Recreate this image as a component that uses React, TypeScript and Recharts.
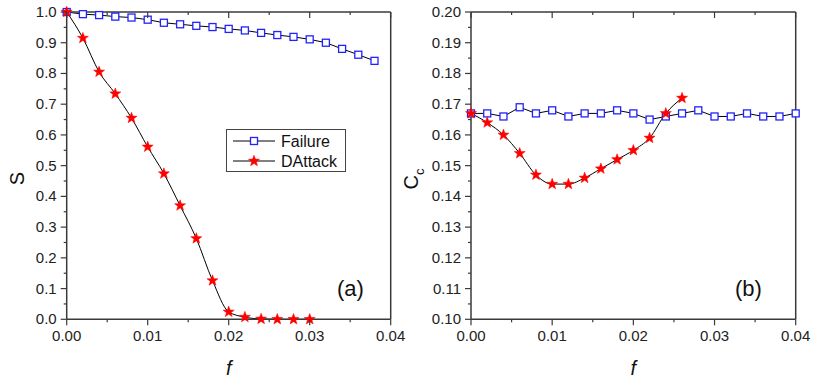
import React from "react";
import { LineChart, Line, XAxis, YAxis, Legend } from "recharts";

// panel (a): giant component S vs removed fraction f
const fA = [0, 0.002, 0.004, 0.006, 0.008, 0.01, 0.012, 0.014, 0.016, 0.018, 0.02, 0.022, 0.024, 0.026, 0.028, 0.03, 0.032, 0.034, 0.036, 0.038];
const sFailure = [1.0, 0.993, 0.99, 0.985, 0.982, 0.975, 0.965, 0.96, 0.955, 0.951, 0.945, 0.94, 0.932, 0.925, 0.919, 0.911, 0.9, 0.88, 0.861, 0.841];
const sDAttack = [1.0, 0.915, 0.805, 0.734, 0.655, 0.561, 0.474, 0.37, 0.263, 0.126, 0.024, 0.007, 0.001, 0, 0, 0];

// panel (b): clustering Cc vs f
const fB = [0, 0.002, 0.004, 0.006, 0.008, 0.01, 0.012, 0.014, 0.016, 0.018, 0.02, 0.022, 0.024, 0.026, 0.028, 0.03, 0.032, 0.034, 0.036, 0.038, 0.04];
const ccFailure = [0.167, 0.167, 0.166, 0.169, 0.167, 0.168, 0.166, 0.167, 0.167, 0.168, 0.167, 0.165, 0.166, 0.167, 0.168, 0.166, 0.166, 0.167, 0.166, 0.166, 0.167];
const ccDAttack = [0.167, 0.164, 0.16, 0.154, 0.147, 0.144, 0.144, 0.146, 0.149, 0.152, 0.155, 0.159, 0.167, 0.172];

const fTicks = [0, 0.01, 0.02, 0.03, 0.04];
const sTicks = [0, 0.1, 0.2, 0.3, 0.4, 0.5, 0.6, 0.7, 0.8, 0.9, 1.0];
const ccTicks = [0.1, 0.11, 0.12, 0.13, 0.14, 0.15, 0.16, 0.17, 0.18, 0.19, 0.2];

const seriesNames = { failure: "Failure", dattack: "DAttack" };

const dataA = fA.map((f, i) => ({ f, failure: sFailure[i], dattack: sDAttack[i] }));
const dataB = fB.map((f, i) => ({ f, failure: ccFailure[i], dattack: ccDAttack[i] }));

const FONT = "'Liberation Sans', Arial, sans-serif";
const AXIS = "#3a3a3a";
const BLUE = "#2222ff";
const RED = "#ff0000";

// majors plus one minor tick between each pair
const withMinors = (majors: number[]) => {
  const out = [...majors];
  for (let i = 0; i < majors.length - 1; i++) out.push((majors[i] + majors[i + 1]) / 2);
  return out.sort((a, b) => a - b);
};

const makeTick = (side: string, majors: number[], digits: number) => (props: any) => {
  const { x, y, payload } = props;
  const v = payload.value;
  const major = majors.some((m) => Math.abs(m - v) < 1e-9);
  const len = major ? 6 : 3;
  let line;
  let label = null;
  if (side === "bottom") {
    line = <line x1={x} x2={x} y1={y} y2={y + len} stroke={AXIS} strokeWidth={1.2} />;
    if (major)
      label = (
        <text x={x} y={y + 22} textAnchor="middle" fontSize={15} fontFamily={FONT} fill="#222">
          {v.toFixed(digits)}
        </text>
      );
  } else if (side === "left") {
    line = <line x1={x} x2={x - len} y1={y} y2={y} stroke={AXIS} strokeWidth={1.2} />;
    if (major)
      label = (
        <text x={x - 10} y={y + 5} textAnchor="end" fontSize={15} fontFamily={FONT} fill="#222">
          {v.toFixed(digits)}
        </text>
      );
  } else if (side === "top") {
    line = <line x1={x} x2={x} y1={y} y2={y + len} stroke={AXIS} strokeWidth={1.2} />;
  } else {
    line = <line x1={x} x2={x - len} y1={y} y2={y} stroke={AXIS} strokeWidth={1.2} />;
  }
  return (
    <g>
      {line}
      {label}
    </g>
  );
};

const starPath = (cx: number, cy: number, ro: number, ri: number) => {
  let d = "";
  for (let k = 0; k < 10; k++) {
    const r = k % 2 === 0 ? ro : ri;
    const a = -Math.PI / 2 + (k * Math.PI) / 5;
    d += (k === 0 ? "M" : "L") + (cx + r * Math.cos(a)).toFixed(2) + "," + (cy + r * Math.sin(a)).toFixed(2);
  }
  return d + "Z";
};

const SquareDot = (p: any) => {
  if (p.cx == null || p.cy == null || p.value == null) return <g key={p.index} />;
  return (
    <rect key={p.index} x={p.cx - 3.5} y={p.cy - 3.5} width={7} height={7} fill="#fff" stroke={BLUE} strokeWidth={1.3} />
  );
};

const StarDot = (p: any) => {
  if (p.cx == null || p.cy == null || p.value == null) return <g key={p.index} />;
  return <path key={p.index} d={starPath(p.cx, p.cy, 5.8, 2.4)} fill={RED} stroke={RED} strokeWidth={0.5} />;
};

const renderLegend = (props: any) => {
  const order = ["failure", "dattack"];
  const items = [...(props.payload || [])]
    .filter((a: any) => order.includes(a.dataKey))
    .sort((a: any, b: any) => order.indexOf(a.dataKey) - order.indexOf(b.dataKey));
  return (
    <svg width={120} height={43} style={{ display: "block" }}>
      <rect x={0.5} y={0.5} width={119} height={42} fill="#fff" stroke="#444" />
      {items.map((it: any, i: number) => {
        const cy = 12 + i * 20;
        return (
          <g key={it.dataKey}>
            <line x1={7} x2={49} y1={cy} y2={cy} stroke="#000" strokeWidth={1} />
            {it.dataKey === "failure" ? (
              <rect x={24.5} y={cy - 3.5} width={7} height={7} fill="#fff" stroke={BLUE} strokeWidth={1.3} />
            ) : (
              <path d={starPath(28, cy, 5.8, 2.4)} fill={RED} stroke={RED} strokeWidth={0.5} />
            )}
            <text x={55} y={cy + 5.5} fontSize={16} fontFamily={FONT} fill="#111">
              {it.value}
            </text>
          </g>
        );
      })}
    </svg>
  );
};

const fLabel = (props: any) => {
  const vb = props.viewBox;
  return (
    <text x={vb.x + vb.width / 2} y={vb.y + 56} textAnchor="middle" fontSize={20} fontStyle="italic" fontFamily={FONT} fill="#111">
      f
    </text>
  );
};

const sLabel = () => (
  <text x={23.5} y={178.5} transform="rotate(-90 23.5 178.5)" textAnchor="middle" fontSize={20} fontFamily={FONT} fill="#111">
    S
  </text>
);

const ccLabel = () => (
  <text x={18} y={179} transform="rotate(-90 18 179)" textAnchor="middle" fontSize={20} fontFamily={FONT} fill="#111">
    C
    <tspan fontSize={13} dy={6}>
      c
    </tspan>
  </text>
);

const panelText = (left: number): React.CSSProperties => ({
  position: "absolute",
  left,
  top: 278,
  fontSize: 22,
  lineHeight: "22px",
  fontFamily: FONT,
  color: "#111",
});

type PanelProps = {
  data: any[];
  width: number;
  right: number;
  yDomain: [number, number];
  yTicks: number[];
  yDigits: number;
  yWidth: number;
  yLabel: any;
  legend?: boolean;
};

function Panel({ data, width, right, yDomain, yTicks, yDigits, yWidth, yLabel, legend }: PanelProps) {
  return (
    <LineChart width={width} height={378} data={data} margin={{ top: 11, right, bottom: 0, left: 0 }}>
      <XAxis
        dataKey="f"
        type="number"
        domain={[0, 0.04]}
        ticks={withMinors(fTicks)}
        interval={0}
        tickLine={false}
        tickSize={0}
        tickMargin={0}
        height={58.7}
        axisLine={{ stroke: AXIS, strokeWidth: 1.5 }}
        tick={makeTick("bottom", fTicks, 2)}
        label={fLabel}
      />
      <XAxis
        xAxisId="top"
        orientation="top"
        dataKey="f"
        type="number"
        domain={[0, 0.04]}
        ticks={withMinors(fTicks)}
        interval={0}
        tickLine={false}
        tickSize={0}
        tickMargin={0}
        height={1}
        axisLine={{ stroke: AXIS, strokeWidth: 1.5 }}
        tick={makeTick("top", fTicks, 2)}
      />
      <YAxis
        type="number"
        domain={yDomain}
        ticks={withMinors(yTicks)}
        interval={0}
        tickLine={false}
        tickSize={0}
        tickMargin={0}
        width={yWidth}
        axisLine={{ stroke: AXIS, strokeWidth: 1.5 }}
        tick={makeTick("left", yTicks, yDigits)}
        label={yLabel}
      />
      <YAxis
        yAxisId="right"
        orientation="right"
        type="number"
        domain={yDomain}
        ticks={withMinors(yTicks)}
        interval={0}
        tickLine={false}
        tickSize={0}
        tickMargin={0}
        width={1}
        axisLine={{ stroke: AXIS, strokeWidth: 1.5 }}
        tick={makeTick("right", yTicks, yDigits)}
      />
      {legend && (
        <Legend
          layout="vertical"
          align="center"
          verticalAlign="middle"
          content={renderLegend}
          wrapperStyle={{ position: "absolute", left: 226, top: 129, width: 120, height: 43 }}
        />
      )}
      <Line dataKey="failure" name={seriesNames.failure} type="linear" stroke="#000" strokeWidth={1} dot={SquareDot} isAnimationActive={false} />
      <Line dataKey="dattack" name={seriesNames.dattack} type="monotone" stroke="#000" strokeWidth={1} dot={StarDot} isAnimationActive={false} />
    </LineChart>
  );
}

export default function App() {
  return (
    <div style={{ position: "absolute", left: 0, top: 0, width: 813, height: 378, background: "#fff" }}>
      <div style={{ position: "absolute", left: 0, top: 0 }}>
        <Panel data={dataA} width={420} right={28.3} yDomain={[0, 1]} yTicks={sTicks} yDigits={1} yWidth={66.7} yLabel={sLabel} legend />
      </div>
      <div style={{ position: "absolute", left: 400, top: 0 }}>
        <Panel data={dataB} width={413} right={16.3} yDomain={[0.1, 0.2]} yTicks={ccTicks} yDigits={2} yWidth={71} yLabel={ccLabel} />
      </div>
      <div style={panelText(337)}>(a)</div>
      <div style={panelText(735)}>(b)</div>
    </div>
  );
}
